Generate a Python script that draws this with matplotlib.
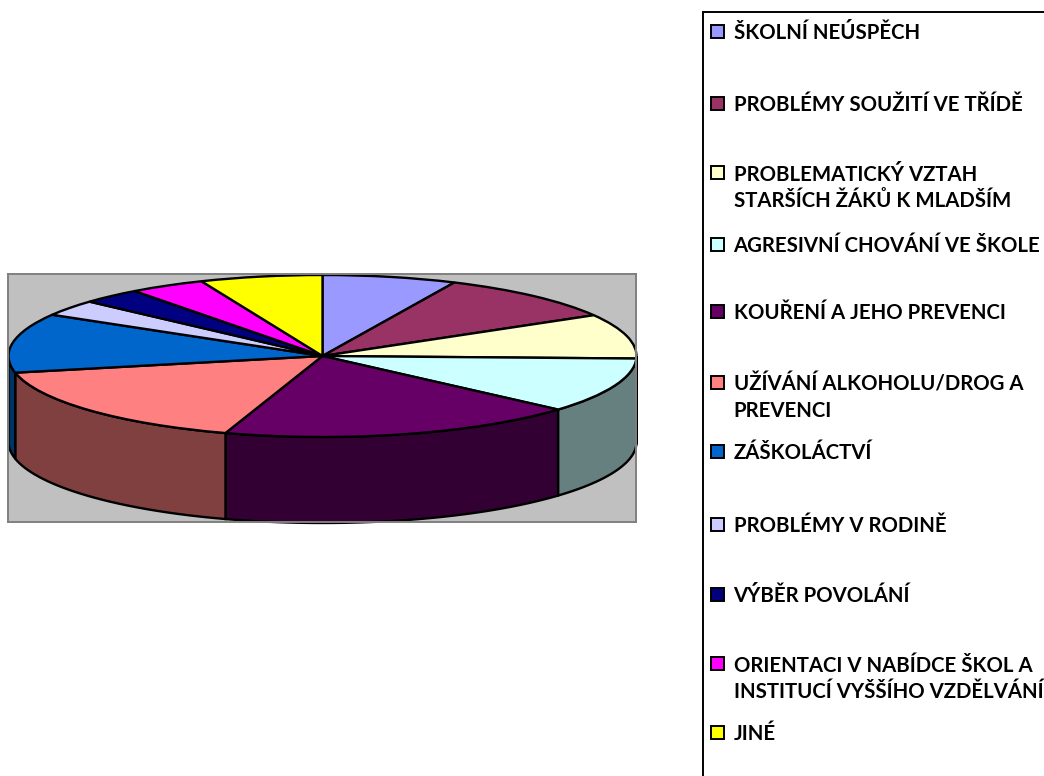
import numpy as np
import matplotlib
matplotlib.use('Agg')
import matplotlib.pyplot as plt
from matplotlib.patches import Rectangle

labels = ['ŠKOLNÍ NEÚSPĚCH', 'PROBLÉMY SOUŽITÍ VE TŘÍDĚ',
          'PROBLEMATICKÝ VZTAH\nSTARŠÍCH ŽÁKŮ K MLADŠÍM', 'AGRESIVNÍ CHOVÁNÍ VE ŠKOLE',
          'KOUŘENÍ A JEHO PREVENCI', 'UŽÍVÁNÍ ALKOHOLU/DROG A\nPREVENCI', 'ZÁŠKOLÁCTVÍ',
          'PROBLÉMY V RODINĚ', 'VÝBĚR POVOLÁNÍ',
          'ORIENTACI V NABÍDCE ŠKOL A\nINSTITUCÍ VYŠŠÍHO VZDĚLVÁNÍ', 'JINÉ']
values = [6.9, 9.7, 8.9, 11.0, 18.5, 16.7, 11.8, 3.2, 3.1, 3.9, 6.3]
colors = ['#9999FF', '#993366', '#FFFFCC', '#CCFFFF', '#660066', '#FF8080',
          '#0066CC', '#CCCCFF', '#000080', '#FF00FF', '#FFFF00']
side_colors = ['#4D4D80', '#4D1A33', '#808066', '#668080', '#330033', '#804040',
               '#003366', '#666680', '#000040', '#800080', '#808000']

# layout, all in pixels of the 1044x776 image
W, H = 1044, 776
WALL = (8, 274, 635.5, 522)
CX, CY, RX, RY, DEPTH = 322.5, 356, 314, 81, 86
LEGEND_Y = [33, 105, 188, 246, 313, 398, 453, 526, 596, 679, 734]
FONT = 'Lato'
FONT_SIZE = 14.7
LINE = 1.7

fig = plt.figure(figsize=(W / 100, H / 100), dpi=100, facecolor='white')

ax = fig.add_axes([WALL[0] / W, 1 - WALL[3] / H, (WALL[2] - WALL[0]) / W, (WALL[3] - WALL[1]) / H])

# front rim of the pie, only the part between 90 and 270 degrees is visible
edges = np.cumsum([0] + values) * 3.6
for a, b, c in zip(edges[:-1], edges[1:], side_colors):
    lo, hi = max(a, 90), min(b, 270)
    if lo >= hi:
        continue
    t = np.radians(np.linspace(lo, hi, 80))
    x, y = np.sin(t), np.cos(t)
    ax.fill(np.r_[x, x[::-1]], np.r_[y, y[::-1] - DEPTH / RY], facecolor=c,
            edgecolor='black', linewidth=LINE, clip_on=False)

ax.pie(values, colors=colors, startangle=90, counterclock=False, radius=1,
       wedgeprops={'edgecolor': 'black', 'linewidth': LINE, 'clip_on': False})

# stretch the circle to the flat ellipse
ax.set_aspect('auto')
ax.set_xlim((WALL[0] - CX) / RX, (WALL[2] - CX) / RX)
ax.set_ylim((CY - WALL[3]) / RY, (CY - WALL[1]) / RY)
ax.set_frame_on(True)
ax.set_facecolor('#C0C0C0')
ax.set_xticks([])
ax.set_yticks([])
for s in ax.spines.values():
    s.set_color('#808080')
    s.set_linewidth(1.4)

# legend box runs off the right and bottom of the image
lg = fig.add_axes([0, 0, 1, 1])
lg.set_xlim(0, W)
lg.set_ylim(H, 0)
lg.axis('off')
lg.patch.set_alpha(0)
lg.add_patch(Rectangle((703, 12), 400, 800, facecolor='white', edgecolor='black', linewidth=1.4))
for label, c, y in zip(labels, colors, LEGEND_Y):
    first_y = y - 16 if '\n' in label else y - 2
    lg.add_patch(Rectangle((711, first_y - 6.5), 13, 13, facecolor=c, edgecolor='black', linewidth=1.4))
    lg.text(733.5, y, label, family=FONT, fontweight='bold', fontsize=FONT_SIZE, color='black',
            va='center', ha='left', linespacing=1.4, clip_on=False)

fig.savefig('out.png', dpi=100)
